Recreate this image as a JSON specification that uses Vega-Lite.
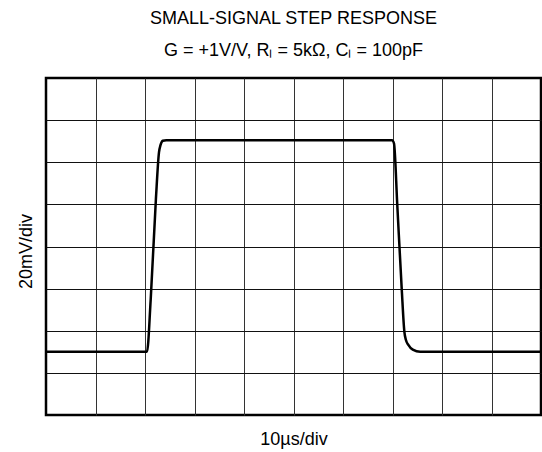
{
  "$schema": "https://vega.github.io/schema/vega-lite/v6.json",
  "autosize": "none",
  "padding": {"left": 46, "top": 78, "right": 1, "bottom": 37},
  "width": 495,
  "height": 337,
  "background": "white",
  "config": {
    "font": "Liberation Sans",
    "view": {"stroke": "black", "strokeWidth": 2.5}
  },
  "title": {
    "text": "SMALL-SIGNAL STEP RESPONSE",
    "subtitle": "G = +1V/V, Rₗ = 5kΩ, Cₗ = 100pF",
    "anchor": "middle",
    "frame": "group",
    "fontSize": 18,
    "fontWeight": "normal",
    "color": "black",
    "subtitleFontSize": 18,
    "subtitleColor": "black",
    "subtitlePadding": 14,
    "offset": 18,
    "font": "Liberation Sans",
    "subtitleFont": "Liberation Sans"
  },
  "data": {
    "values": [
      {"t": 0, "v": 30},
      {"t": 20.4, "v": 30},
      {"t": 21.15, "v": 54.8},
      {"t": 22.2, "v": 102.4},
      {"t": 22.83, "v": 124.8},
      {"t": 23.13, "v": 128.1},
      {"t": 23.6, "v": 130.2},
      {"t": 24.3, "v": 130.5},
      {"t": 69.9, "v": 130.5},
      {"t": 70.3, "v": 129.0},
      {"t": 70.97, "v": 99.5},
      {"t": 71.86, "v": 60},
      {"t": 72.4, "v": 39.5},
      {"t": 72.7, "v": 35.7},
      {"t": 73.2, "v": 33.3},
      {"t": 74.1, "v": 31},
      {"t": 75.6, "v": 30},
      {"t": 100, "v": 30}
    ]
  },
  "mark": {"type": "line", "color": "black", "strokeWidth": 2.5, "interpolate": "monotone", "clip": true},
  "encoding": {
    "x": {
      "field": "t",
      "type": "quantitative",
      "scale": {"domain": [0, 100], "nice": false, "zero": false},
      "axis": {
        "title": "10µs/div",
        "titleFontSize": 18,
        "titleFontWeight": "normal",
        "titleColor": "black",
        "titlePadding": 15,
        "values": [10, 20, 30, 40, 50, 60, 70, 80, 90],
        "labels": false,
        "ticks": false,
        "domain": false,
        "grid": true,
        "gridColor": "#333",
        "gridOpacity": 1,
        "gridWidth": 1
      }
    },
    "y": {
      "field": "v",
      "type": "quantitative",
      "scale": {"domain": [0, 160], "nice": false},
      "axis": {
        "title": "20mV/div",
        "titleFontSize": 18,
        "titleFontWeight": "normal",
        "titleColor": "black",
        "titlePadding": 11,
        "titleY": 173,
        "values": [20, 40, 60, 80, 100, 120, 140],
        "labels": false,
        "ticks": false,
        "domain": false,
        "grid": true,
        "gridColor": "#111",
        "gridOpacity": 1,
        "gridWidth": 1
      }
    }
  }
}
